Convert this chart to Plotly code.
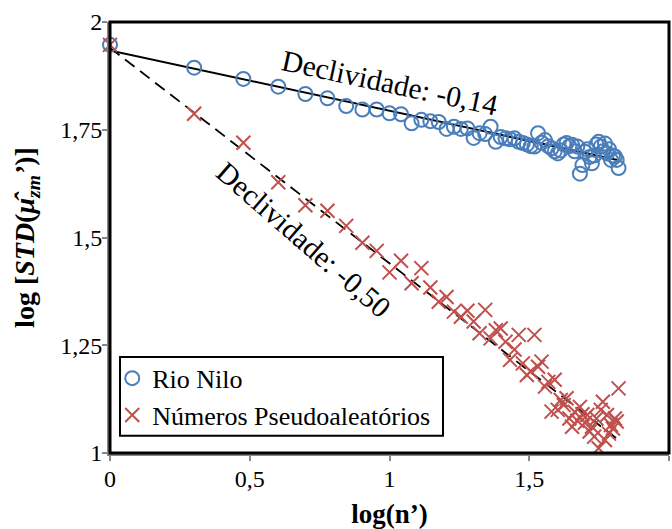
import numpy as np
import plotly.graph_objects as go

# Window sizes n' (x axis is log10 of these)
n_values = list(range(1, 67))

# log STD of the mean estimate — Nile river series
rio_nilo = [
    1.947, 1.894, 1.868, 1.850, 1.833, 1.823, 1.805, 1.797, 1.797, 1.788,
    1.786, 1.765, 1.773, 1.770, 1.768, 1.752, 1.757, 1.752, 1.753, 1.731,
    1.742, 1.740, 1.757, 1.722, 1.733, 1.730, 1.728, 1.730, 1.722, 1.719,
    1.716, 1.712, 1.711, 1.742, 1.720, 1.726, 1.712, 1.707, 1.700, 1.695,
    1.702, 1.716, 1.719, 1.712, 1.715, 1.700, 1.711, 1.648, 1.668, 1.699,
    1.705, 1.687, 1.672, 1.690, 1.716, 1.722, 1.711, 1.700, 1.718, 1.695,
    1.705, 1.680, 1.690, 1.688, 1.680, 1.661,
]

# log STD of the mean estimate — pseudo-random numbers
pseudo = [
    1.947, 1.787, 1.720, 1.628, 1.575, 1.562, 1.527, 1.488, 1.469, 1.419,
    1.446, 1.394, 1.429, 1.384, 1.351, 1.362, 1.328, 1.316, 1.330, 1.305,
    1.278, 1.332, 1.266, 1.285, 1.289, 1.258, 1.216, 1.240, 1.274, 1.208,
    1.181, 1.189, 1.274, 1.200, 1.212, 1.154, 1.165, 1.096, 1.170, 1.100,
    1.123, 1.111, 1.127, 1.080, 1.061, 1.095, 1.075, 1.107, 1.090, 1.070,
    1.088, 1.050, 1.061, 1.038, 1.080, 1.011, 1.100, 1.119, 1.030, 1.088,
    1.045, 1.065, 1.057, 1.080, 1.073, 1.150,
]

# Linear trend lines: (intercept, slope)
trend_nilo = (1.934, -0.14)
trend_pseudo = (1.940, -0.50)

x_ticks = [0, 0.5, 1, 1.5, 2]
x_ticktext = ["0", "0,5", "1", "1,5", "2"]
y_ticks = [1, 1.25, 1.5, 1.75, 2]
y_ticktext = ["1", "1,25", "1,5", "1,75", "2"]

FONT = "Liberation Serif"
BLUE = "#4A7EBB"
RED = "#C0504D"

x = np.log10(n_values)
x_line = np.array([0.0, x[-1]])

fig = go.Figure()

fig.add_trace(go.Scatter(
    x=x_line, y=trend_nilo[0] + trend_nilo[1] * x_line,
    mode="lines", line=dict(color="black", width=2),
    showlegend=False, hoverinfo="skip",
))
fig.add_trace(go.Scatter(
    x=x_line, y=trend_pseudo[0] + trend_pseudo[1] * x_line,
    mode="lines", line=dict(color="black", width=1.8, dash="12px,7px"),
    showlegend=False, hoverinfo="skip",
))

fig.add_trace(go.Scatter(
    x=x, y=rio_nilo, mode="markers", name="Rio Nilo",
    marker=dict(symbol="circle-open", size=14, color=BLUE, line=dict(width=2, color=BLUE)),
    cliponaxis=False,
))
fig.add_trace(go.Scatter(
    x=x, y=pseudo, mode="markers", name="Números Pseudoaleatórios",
    marker=dict(symbol="x-thin-open", size=14, color=RED, line=dict(width=2, color=RED)),
    cliponaxis=False,
))

fig.add_annotation(
    x=1.003, y=1.858, xref="x", yref="y", text="Declividade: -0,14",
    showarrow=False, textangle=12, font=dict(family=FONT, size=29.5, color="black"),
)
fig.add_annotation(
    x=0.694, y=1.495, xref="x", yref="y", text="Declividade: -0,50",
    showarrow=False, textangle=41, font=dict(family=FONT, size=29.5, color="black"),
)

# legend box
fig.add_shape(type="rect", xref="paper", yref="paper",
              x0=0.0179, y0=0.040, x1=0.5957, y1=0.2227,
              line=dict(color="black", width=2), fillcolor="white", layer="below")

# plot-area frame
fig.add_shape(type="rect", xref="paper", yref="paper", x0=0, y0=0, x1=1, y1=1,
              line=dict(color="black", width=3), layer="above")

fig.update_layout(
    width=672, height=529,
    margin=dict(l=110, r=3, t=22, b=76),
    paper_bgcolor="white", plot_bgcolor="white",
    font=dict(family=FONT, size=24, color="black"),
    showlegend=True,
    legend=dict(
        x=0.004, y=0.228, xanchor="left", yanchor="top",
        bgcolor="rgba(0,0,0,0)", borderwidth=0,
        font=dict(family=FONT, size=26, color="black"),
        itemwidth=30, tracegroupgap=0,
    ),
    xaxis=dict(
        range=[0, 2], tickvals=x_ticks, ticktext=x_ticktext,
        showgrid=False, zeroline=False,
        showline=True, linecolor="#868686", linewidth=3,
        ticks="outside", ticklen=5, tickwidth=1.5, tickcolor="#868686",
        ticklabelstandoff=-3,
        tickfont=dict(family=FONT, size=24, color="black"),
        title=dict(text="<b>log(n’)</b>", font=dict(family=FONT, size=27, color="black"), standoff=16),
    ),
    yaxis=dict(
        range=[1, 2], tickvals=y_ticks, ticktext=y_ticktext,
        showgrid=False, zeroline=False,
        showline=True, linecolor="#868686", linewidth=3,
        ticks="outside", ticklen=5, tickwidth=1.5, tickcolor="#868686",
        ticklabelstandoff=-5,
        tickfont=dict(family=FONT, size=24, color="black"),
        title=dict(
            text="<b>log [<i>STD</i>(<i>μ̂</i><sub><i>zm</i></sub><i>’</i>)]</b>",
            font=dict(family=FONT, size=28, color="black"), standoff=18,
        ),
    ),
)

fig.write_html("out.html")
